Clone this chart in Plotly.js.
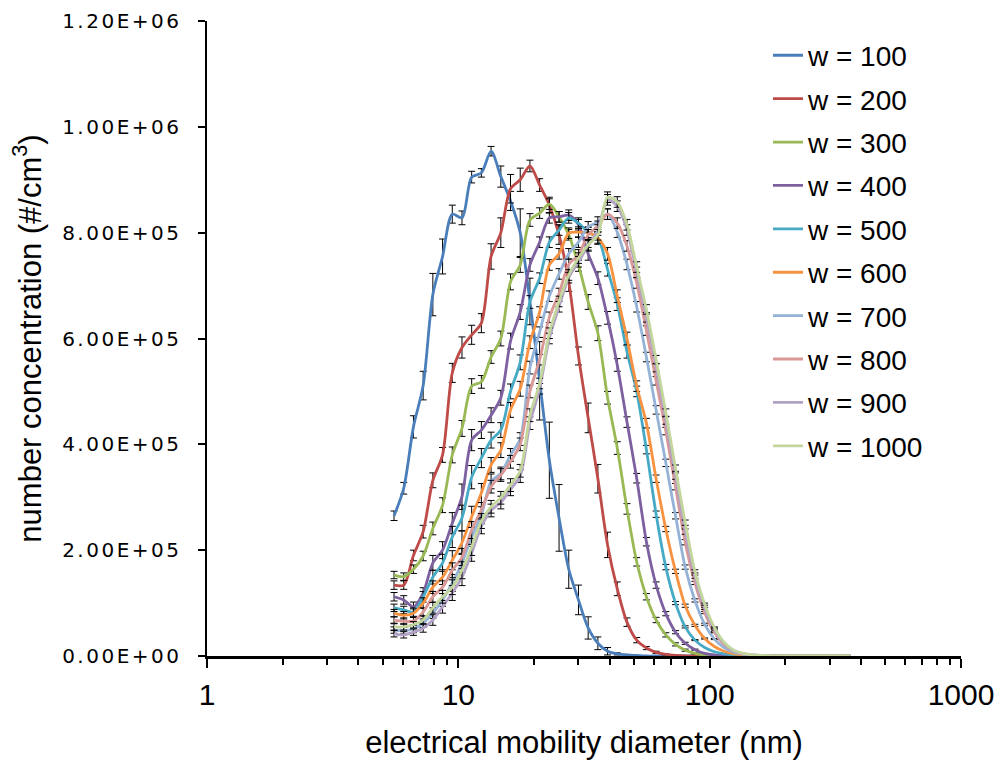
<!DOCTYPE html>
<html>
<head>
<meta charset="utf-8">
<script src="https://cdn.plot.ly/plotly-3.0.1.min.js"></script>
<style>
html,body{margin:0;padding:0;background:#fff;}
#chart{width:996px;height:767px;}
.ytick text{letter-spacing:2.5px;}
</style>
</head>
<body>
<div id="chart"></div>
<script>
// electrical mobility diameter (nm)
const diameter = [5.548,6.064,6.628,7.245,7.918,8.655,9.460,10.34,11.30,12.35,13.50,14.76,16.13,17.63,19.27,21.06,23.02,25.16,27.50,30.06,32.85,35.91,39.24,42.89,46.88,51.24,56.01,61.22,66.91,73.13,79.93,87.37,95.49,104.4,114.1,124.7,136.3,149.0,162.8,178.0,194.5,212.6,232.4,254.0,277.6,303.4,331.6,362.5];

// number concentration, in thousands of #/cm3
const UNIT = 1000;
const w100 = [265,317,433,511,683,755,835,828,905,913,954,906,860,800,670,520,370,261,164,106,53,24,9,4,2,1,0,0,0,0,0,0,0,0,0,0,0,0,0,0,0,0,0,0,0,0,0,0];
const w200 = [134,134,190,235,332,380,535,583,607,629,755,800,883,900,926,890,852,796,707,567,450,335,210,127,64,30,15,7,3,1,0,0,0,0,0,0,0,0,0,0,0,0,0,0,0,0,0,0];
const w300 = [153,150,164,189,241,285,380,430,510,518,565,600,707,739,824,837,854,830,796,739,669,610,488,393,278,178,112,68,40,22,11,5,2,1,0,0,0,0,0,0,0,0,0,0,0,0,0,0];
const w400 = [112,106,93,119,176,200,251,301,408,427,455,488,595,650,739,782,828,830,833,815,760,714,639,550,442,336,216,134,80,45,24,12,5,2,1,0,0,0,0,0,0,0,0,0,0,0,0,0];
const w500 = [91,87,83,112,149,176,225,261,338,374,408,427,500,555,669,714,782,805,828,818,801,790,730,665,575,500,390,268,168,100,55,30,16,8,4,2,1,0,0,0,0,0,0,0,0,0,0,0];
const w600 = [81,77,81,100,130,149,181,214,263,308,361,389,465,505,593,650,739,760,799,801,800,790,760,680,600,510,440,335,240,160,95,58,33,18,9,4,2,1,0,0,0,0,0,0,0,0,0,0];
const w700 = [49,48,51,62,81,106,138,176,225,266,330,345,380,410,545,612,680,722,760,782,811,820,835,801,740,660,565,465,365,265,168,105,60,32,16,7,3,1,0,0,0,0,0,0,0,0,0,0];
const w800 = [68,66,66,83,112,130,162,187,238,276,320,342,367,400,500,560,640,685,740,758,796,812,835,818,775,705,615,520,425,320,215,138,82,45,22,10,4,2,1,0,0,0,0,0,0,0,0,0];
const w900 = [42,40,45,53,68,93,119,149,195,245,275,290,315,340,440,505,600,660,715,745,775,805,862,850,805,725,640,545,445,340,235,150,90,50,24,10,4,2,1,0,0,0,0,0,0,0,0,0];
const w1000 = [55,55,59,68,91,112,130,162,206,255,282,299,323,350,455,515,610,670,720,752,777,796,867,858,815,735,655,560,460,355,252,160,98,54,26,11,5,2,1,0,0,0,0,0,0,0,0,0];

// error bar half-lengths, in thousands of #/cm3
const e100 = [9,11,21,27,40,33,17,13,11,8,9,20,18,45,44,74,72,63,36,28,21,12,7,2,1,0,0,0,0,0,0,0,0,0,0,0,0,0,0,0,0,0,0,0,0,0,0,0];
const e200 = [8,8,10,12,14,14,18,20,18,18,24,28,27,22,11,12,15,18,18,17,28,27,24,13,8,5,3,2,1,0,0,0,0,0,0,0,0,0,0,0,0,0,0,0,0,0,0,0];
const e300 = [7,7,8,9,12,14,15,15,14,12,12,14,15,14,12,10,10,10,10,12,14,14,12,12,10,8,6,5,4,3,2,1,0,0,0,0,0,0,0,0,0,0,0,0,0,0,0,0];
const e400 = [8,8,9,10,14,16,20,24,20,16,14,14,15,14,12,10,10,10,10,10,12,12,12,12,10,9,8,6,4,3,2,1,0,0,0,0,0,0,0,0,0,0,0,0,0,0,0,0];
const e500 = [7,7,8,10,13,16,20,24,22,18,15,14,14,14,12,10,10,10,10,10,10,12,12,12,12,10,8,6,5,3,2,1,0,0,0,0,0,0,0,0,0,0,0,0,0,0,0,0];
const e600 = [7,7,8,10,12,14,18,22,20,18,14,14,14,14,12,10,10,10,10,10,10,10,12,12,12,10,9,7,5,4,3,2,1,0,0,0,0,0,0,0,0,0,0,0,0,0,0,0];
const e700 = [6,6,7,8,10,12,16,18,18,16,14,12,12,12,12,10,10,10,10,10,10,10,10,10,10,10,9,8,7,6,4,3,2,1,0,0,0,0,0,0,0,0,0,0,0,0,0,0];
const e800 = [6,6,7,8,10,12,14,16,16,14,12,12,12,12,12,10,10,10,10,10,10,10,10,10,10,10,9,8,7,6,5,3,2,1,0,0,0,0,0,0,0,0,0,0,0,0,0,0];
const e900 = [6,6,6,8,10,12,14,16,16,14,12,12,12,12,12,10,10,10,10,10,10,10,10,10,10,10,9,8,7,6,5,3,2,1,0,0,0,0,0,0,0,0,0,0,0,0,0,0];
const e1000 = [6,6,6,8,10,12,14,16,16,14,12,12,12,12,12,10,10,10,10,10,10,10,10,10,10,10,9,8,7,6,5,3,2,1,0,0,0,0,0,0,0,0,0,0,0,0,0,0];

const seriesNames = ["w = 100","w = 200","w = 300","w = 400","w = 500","w = 600","w = 700","w = 800","w = 900","w = 1000"];
const seriesValues = [w100,w200,w300,w400,w500,w600,w700,w800,w900,w1000];
const seriesErrors = [e100,e200,e300,e400,e500,e600,e700,e800,e900,e1000];
const seriesColors = ["#4A7EBB","#BE4B48","#98B954","#7D60A0","#46AAC5","#F69240","#95B3D7","#D99795","#B3A2C7","#C3D69B"];

const xTickVals = [1,10,100,1000];
const xTickText = ["1","10","100","1000"];
const xMinorVals = [2,3,4,5,6,7,8,9,20,30,40,50,60,70,80,90,200,300,400,500,600,700,800,900];
const yTickVals = [0,200000,400000,600000,800000,1000000,1200000];
const yTickText = ["0.00E+00","2.00E+05","4.00E+05","6.00E+05","8.00E+05","1.00E+06","1.20E+06"];

const traces = seriesNames.map((name, i) => ({
  type: 'scatter',
  mode: 'lines',
  name: name,
  legendgroup: 'g' + i,
  x: diameter,
  y: seriesValues[i].map(v => v * UNIT),
  line: {color: seriesColors[i], width: 2.8, shape: 'spline', smoothing: 0.8},
  error_y: {
    type: 'data', symmetric: true,
    array: seriesErrors[i].map(e => e > 0 ? e * UNIT : NaN),
    color: '#000', thickness: 1, width: 3.5
  },
  hoverinfo: 'x+y+name'
}));

const textFont = 'Liberation Sans, Arial, sans-serif';

const layout = {
  width: 996, height: 767,
  margin: {l: 207, r: 35, t: 21, b: 111, pad: 0},
  paper_bgcolor: '#fff', plot_bgcolor: '#fff',
  showlegend: true,
  legend: {
    x: 0.744, xanchor: 'left', y: 0.985, yanchor: 'top',
    bgcolor: 'rgba(0,0,0,0)', borderwidth: 0,
    font: {family: textFont, size: 28, color: '#000'},
    traceorder: 'grouped', tracegroupgap: 4
  },
  xaxis: {
    type: 'log', range: [0, 3],
    showline: true, linecolor: '#000', linewidth: 2.5,
    ticks: 'outside', ticklen: 9, tickwidth: 2, tickcolor: '#000',
    tickmode: 'array', tickvals: xTickVals, ticktext: xTickText,
    minor: {tickmode: 'array', tickvals: xMinorVals, ticks: 'outside', ticklen: 6, tickwidth: 2, tickcolor: '#000', showgrid: false},
    showgrid: false, zeroline: false,
    tickfont: {family: textFont, size: 30, color: '#000'},
    ticklabelstandoff: 1,
    title: {text: 'electrical mobility diameter (nm)', font: {family: textFont, size: 31, color: '#000'}, standoff: 22}
  },
  yaxis: {
    range: [0, 1200000],
    showline: true, linecolor: '#000', linewidth: 2.5,
    ticks: 'outside', ticklen: 7, tickwidth: 2, tickcolor: '#000',
    tickmode: 'array', tickvals: yTickVals, ticktext: yTickText,
    showgrid: false, zeroline: false,
    tickfont: {family: 'DejaVu Sans, Verdana, sans-serif', size: 20, color: '#000'},
    ticklabelstandoff: 12,
    title: {text: 'number concentration (#/cm<sup>3</sup>)', font: {family: textFont, size: 31, color: '#000'}, standoff: 12}
  }
};

Plotly.newPlot('chart', traces, layout, {displayModeBar: false, staticPlot: true});
</script>
</body>
</html>
